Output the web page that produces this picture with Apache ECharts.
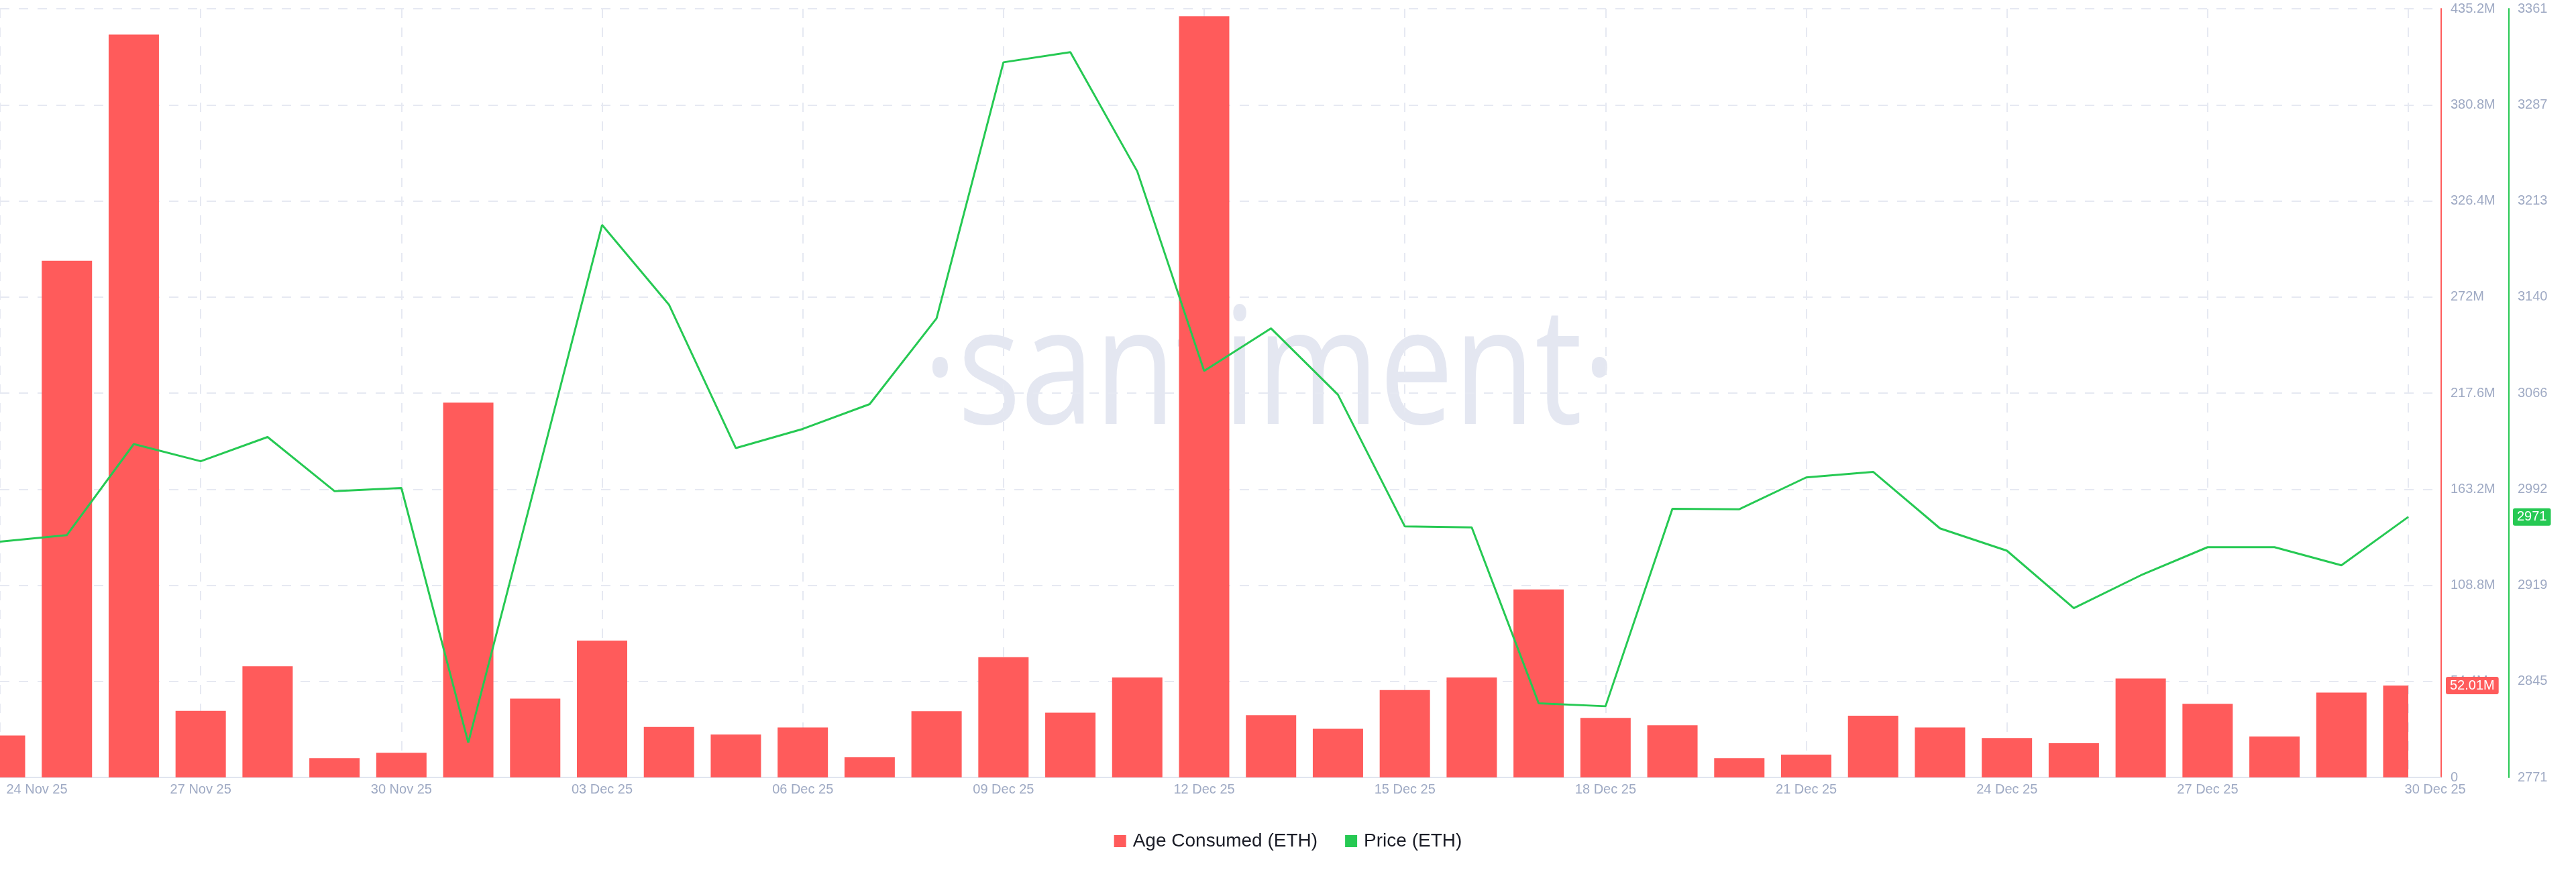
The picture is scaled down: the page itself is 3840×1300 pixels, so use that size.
<!DOCTYPE html>
<html>
<head>
<meta charset="utf-8">
<script src="https://cdn.jsdelivr.net/npm/echarts@6/dist/echarts.min.js"></script>
<style>
html,body{margin:0;padding:0;background:#ffffff;}
#chart{width:3840px;height:1300px;}
</style>
</head>
<body>
<div id="chart"></div>
<script>
// ---- data ----
const dates = [
  '24 Nov 25','25 Nov 25','26 Nov 25','27 Nov 25','28 Nov 25','29 Nov 25','30 Nov 25',
  '01 Dec 25','02 Dec 25','03 Dec 25','04 Dec 25','05 Dec 25','06 Dec 25','07 Dec 25',
  '08 Dec 25','09 Dec 25','10 Dec 25','11 Dec 25','12 Dec 25','13 Dec 25','14 Dec 25',
  '15 Dec 25','16 Dec 25','17 Dec 25','18 Dec 25','19 Dec 25','20 Dec 25','21 Dec 25',
  '22 Dec 25','23 Dec 25','24 Dec 25','25 Dec 25','26 Dec 25','27 Dec 25','28 Dec 25',
  '29 Dec 25','30 Dec 25'
];
// Age Consumed (ETH), in millions
const ageConsumed = [
  23.7, 292.5, 420.6, 37.7, 62.9, 10.9, 14.0,
  212.2, 44.6, 77.5, 28.6, 24.3, 28.3, 11.4,
  37.5, 68.1, 36.6, 56.6, 430.9, 35.2, 27.5,
  49.5, 56.6, 106.4, 33.7, 29.5, 10.9, 12.9,
  34.9, 28.3, 22.3, 19.4, 56.0, 41.7, 23.2,
  48.0, 52.01
];
// Price (ETH), USD
const price = [
  2952.1, 2957.1, 3026.9, 3013.7, 3032.3, 2990.8, 2993.2,
  2797.9, 2996.0, 3195.0, 3133.8, 3023.8, 3038.5, 3057.5,
  3123.3, 3319.7, 3327.5, 3236.1, 3083.0, 3115.6, 3064.8,
  2963.7, 2963.0, 2828.1, 2825.8, 2977.3, 2976.9, 3001.3,
  3005.6, 2962.2, 2945.1, 2901.0, 2926.2, 2947.8, 2947.8,
  2933.9, 2971
];
const ageAxisRange = [0, 435.2, 54.4];          // min, max, step (M)
const priceAxisRange = [2771.2, 3360.8, 73.7];  // min, max, step
const dateTickStep = 3;
const seriesNames = ['Age Consumed (ETH)', 'Price (ETH)'];

// ---- style ----
const RED = '#ff5b5b';
const GREEN = '#26c953';
const LABEL = '#9faac4';
const GRID = '#e6e9f2';
const FONT = '"Liberation Sans", Arial, sans-serif';
const BAR_RATIO = 0.752;

const lastIdx = dates.length - 1;
const xExtra = 36.49 - lastIdx; // axis runs a little past the last day

const chart = echarts.init(document.getElementById('chart'), null, {renderer: 'canvas'});

function renderBar(params, api) {
  const x = api.value(0);
  const v = api.value(1);
  const top = api.coord([x, v]);
  const base = api.coord([x, 0]);
  const w = api.size([1, 0])[0] * BAR_RATIO;
  const cs = params.coordSys;
  const rect = echarts.graphic.clipRectByRect(
    {x: top[0] - w / 2, y: top[1], width: w, height: base[1] - top[1]},
    {x: cs.x, y: cs.y, width: cs.width, height: cs.height}
  );
  if (!rect) return null;
  return {type: 'rect', shape: rect, style: {fill: RED}};
}

const option = {
  backgroundColor: '#ffffff',
  animation: false,
  textStyle: {fontFamily: FONT},
  graphic: [{
    type: 'text',
    x: 1893, y: 562,
    scaleX: 0.81,
    z: 0,
    silent: true,
    style: {
      text: '\u00B7santiment\u00B7',
      font: '500 244px "Open Sans"',
      fill: '#e4e7f1',
      textAlign: 'center', align: 'center',
      textVerticalAlign: 'middle', verticalAlign: 'middle'
    }
  }],
  legend: {
    top: 1235,
    left: 'center',
    icon: 'rect',
    itemWidth: 18,
    itemHeight: 18,
    itemGap: 41,
    textStyle: {fontSize: 28, color: '#1a1c26', fontFamily: FONT, padding: [0, 0, 0, 5]},
    data: seriesNames
  },
  grid: [
    {left: 0, right: 250, top: 13, bottom: 141},
    {left: 0, right: 201, top: 13, bottom: 141}
  ],
  xAxis: [
    {type: 'value', gridIndex: 0, min: 0, max: lastIdx, show: false,
     axisLine: {show: false, onZero: false}},
    {
      type: 'value', gridIndex: 1, min: 0, max: lastIdx + xExtra, interval: dateTickStep,
      axisLine: {show: true, onZero: false, lineStyle: {color: '#e1e5ef', width: 2}},
      axisTick: {show: false},
      splitLine: {show: true, lineStyle: {color: GRID, width: 2, type: [14, 14]}},
      axisLabel: {
        show: true, fontSize: 20, color: LABEL, fontFamily: FONT, margin: 8,
        showMinLabel: true, showMaxLabel: true,
        formatter: function (v) {
          if (Math.abs(v - Math.round(v)) > 1e-6) return '';
          const i = Math.round(v);
          if (i < 0 || i > lastIdx) return '';
          if (i === 0) return '{first|' + dates[i] + '}';
          if (i === lastIdx) return '{last|' + dates[i] + '}';
          return dates[i];
        },
        rich: {
          first: {fontSize: 20, color: LABEL, fontFamily: FONT, padding: [0, 0, 0, 110]},
          last: {fontSize: 20, color: LABEL, fontFamily: FONT, padding: [0, 0, 0, 80]}
        }
      }
    }
  ],
  yAxis: [
    {type: 'value', gridIndex: 0, min: ageAxisRange[0], max: ageAxisRange[1], show: false,
     axisLine: {show: false, onZero: false}, splitLine: {show: false}},
    {type: 'value', gridIndex: 0, min: priceAxisRange[0], max: priceAxisRange[1], show: false,
     axisLine: {show: false, onZero: false}, splitLine: {show: false}},
    {
      type: 'value', gridIndex: 1, position: 'right', offset: 0,
      min: ageAxisRange[0], max: ageAxisRange[1], interval: ageAxisRange[2],
      axisLine: {show: true, onZero: false, lineStyle: {color: RED, width: 2}},
      axisTick: {show: false},
      splitLine: {show: true, lineStyle: {color: GRID, width: 2, type: [14, 14]}},
      axisLabel: {
        fontSize: 20, color: LABEL, fontFamily: FONT, margin: 14,
        formatter: function (v) { return v === 0 ? '0' : (Math.round(v * 10) / 10) + 'M'; }
      },
      axisPointer: {
        show: true, type: 'line', status: 'show', value: ageConsumed[lastIdx],
        triggerTooltip: false,
        lineStyle: {opacity: 0, width: 0},
        label: {
          show: true, margin: 7,
          formatter: function (p) { return Number(p.value).toFixed(2) + 'M'; },
          backgroundColor: RED, color: '#ffffff', fontSize: 20, fontFamily: FONT,
          padding: [3, 6], shadowBlur: 0, borderWidth: 0
        }
      }
    },
    {
      type: 'value', gridIndex: 1, position: 'right', offset: 101,
      min: priceAxisRange[0], max: priceAxisRange[1], interval: priceAxisRange[2],
      axisLine: {show: true, onZero: false, lineStyle: {color: GREEN, width: 2}},
      axisTick: {show: false},
      splitLine: {show: false},
      axisLabel: {
        fontSize: 20, color: LABEL, fontFamily: FONT, margin: 13,
        formatter: function (v) { return String(Math.round(v)); }
      },
      axisPointer: {
        show: true, type: 'line', status: 'show', value: price[lastIdx],
        triggerTooltip: false,
        lineStyle: {opacity: 0, width: 0},
        label: {
          show: true, margin: 6,
          formatter: function (p) { return String(Math.round(p.value)); },
          backgroundColor: GREEN, color: '#ffffff', fontSize: 20, fontFamily: FONT,
          padding: [3, 6], shadowBlur: 0, borderWidth: 0
        }
      }
    }
  ],
  axisPointer: {triggerOn: 'none'},
  series: [
    {
      name: seriesNames[0],
      type: 'custom',
      xAxisIndex: 0, yAxisIndex: 0,
      renderItem: renderBar,
      encode: {x: 0, y: 1},
      itemStyle: {color: RED},
      data: ageConsumed.map(function (v, i) { return [i, v]; }),
      z: 2
    },
    {
      name: seriesNames[1],
      type: 'line',
      xAxisIndex: 0, yAxisIndex: 1,
      symbol: 'none',
      lineStyle: {color: GREEN, width: 3},
      itemStyle: {color: GREEN},
      data: price.map(function (v, i) { return [i, v]; }),
      z: 3
    }
  ]
};
chart.setOption(option);
</script>
</body>
</html>
